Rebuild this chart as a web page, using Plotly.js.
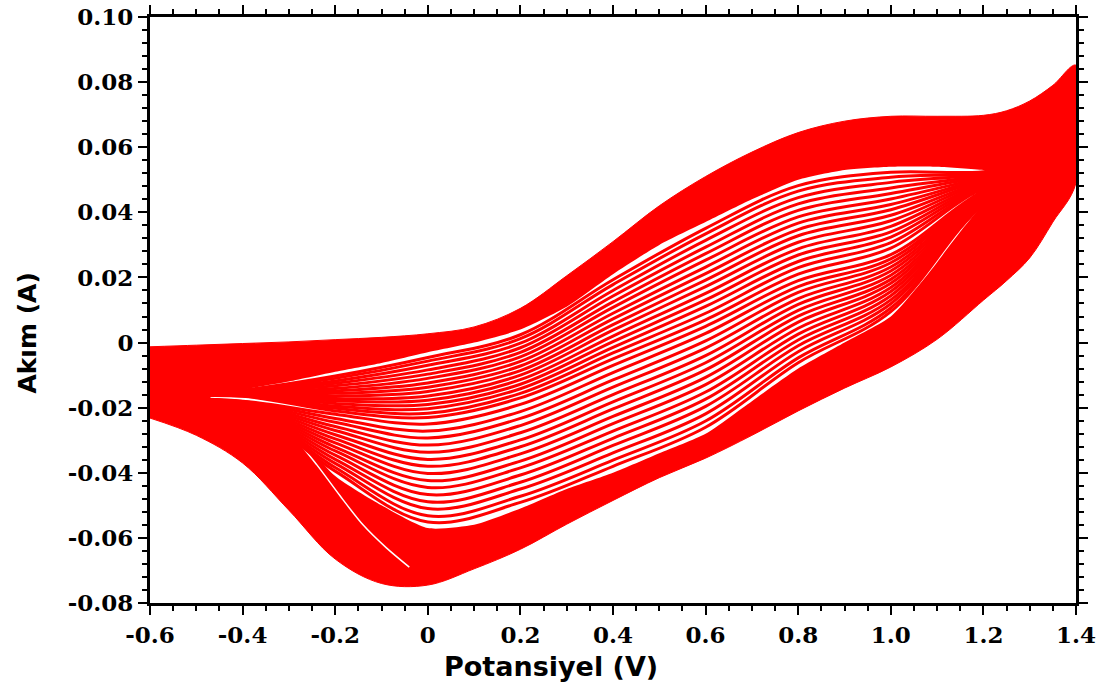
<!DOCTYPE html>
<html>
<head>
<meta charset="utf-8">
<script src="https://cdn.plot.ly/plotly-3.0.1.min.js"></script>
<style>html,body{margin:0;padding:0;background:#fff;}#chart{width:1110px;height:689px;}</style>
</head>
<body>
<div id="chart"></div>
<script>
// ---- Axis tick labels ----
const xTickVals = [-0.6,-0.4,-0.2,0,0.2,0.4,0.6,0.8,1.0,1.2,1.4];
const xTickText = ["-0.6","-0.4","-0.2","0","0.2","0.4","0.6","0.8","1.0","1.2","1.4"];
const yTickVals = [-0.08,-0.06,-0.04,-0.02,0,0.02,0.04,0.06,0.08,0.10];
const yTickText = ["-0.08","-0.06","-0.04","-0.02","0","0.02","0.04","0.06","0.08","0.10"];

// ---- Outer envelope (last cycles, solid red band) ----
const envV      = [-0.6,-0.5,-0.4,-0.3,-0.2,-0.1,0.0,0.1,0.2,0.3,0.4,0.5,0.6,0.7,0.8,0.9,1.0,1.1,1.2,1.25,1.3,1.35,1.4];
const envAnodic = [-0.0013,-0.0008,-0.0003,0.0002,0.0009,0.0016,0.0027,0.0048,0.0105,0.0205,0.0310,0.0420,0.0510,0.0585,0.0645,0.0680,0.0695,0.0695,0.0698,0.0712,0.0742,0.0790,0.0852];
const envCathodic = [-0.0232,-0.0285,-0.0370,-0.0515,-0.0665,-0.0740,-0.0745,-0.0695,-0.0635,-0.0558,-0.0485,-0.0415,-0.0355,-0.0285,-0.0210,-0.0140,-0.0075,0.0010,0.0130,0.0190,0.0260,0.0370,0.0490];

// ---- Inner lens (region where the earlier cycles are spread apart) ----
const lensTopV = [-0.47,-0.4,-0.3,-0.2,-0.1,0.0,0.1,0.2,0.3,0.4,0.5,0.6,0.7,0.8,0.9,1.0,1.1,1.2,1.26];
const lensTop  = [-0.017,-0.0145,-0.012,-0.009,-0.0063,-0.003,0.000,0.004,0.011,0.021,0.030,0.037,0.044,0.050,0.053,0.054,0.054,0.053,0.052];
const lensBotV = [-0.47,-0.4,-0.3,-0.2,-0.1,0.0,0.1,0.2,0.3,0.4,0.5,0.6,0.7,0.8,0.9,1.0,1.08,1.15,1.22,1.26];
const lensBot  = [-0.017,-0.020,-0.026,-0.041,-0.050,-0.057,-0.056,-0.051,-0.045,-0.040,-0.034,-0.028,-0.018,-0.008,0.000,0.008,0.021,0.034,0.046,0.052];

// ---- White gap between two late cycles in the lower-left band ----
const gapV = [-0.40,-0.34,-0.29,-0.24,-0.19,-0.14,-0.09,-0.04];
const gapI = [-0.0200,-0.0230,-0.0290,-0.0375,-0.0470,-0.0560,-0.0630,-0.0690];

// ---- Individual inner cycles (potential grid + anodic / cathodic currents) ----
const cycV = [-0.6,-0.4,-0.2,0,0.2,0.4,0.6,0.8,1.0,1.2,1.4];
const an01 = [-0.017,-0.0165,-0.0210,-0.0230,-0.0170,-0.0050,0.0070,0.0210,0.0290,0.0475,0.0560];
const ca01 = [-0.017,-0.0180,-0.0220,-0.0250,-0.0190,-0.0070,0.0050,0.0190,0.0270,0.0465,0.0560];
const an02 = [-0.017,-0.0164,-0.0202,-0.0217,-0.0156,-0.0032,0.0090,0.0230,0.0307,0.0478,0.0561];
const ca02 = [-0.017,-0.0181,-0.0233,-0.0272,-0.0212,-0.0092,0.0028,0.0172,0.0257,0.0462,0.0561];
const an03 = [-0.017,-0.0162,-0.0195,-0.0203,-0.0142,-0.0015,0.0111,0.0249,0.0324,0.0482,0.0563];
const ca03 = [-0.017,-0.0183,-0.0245,-0.0293,-0.0233,-0.0115,0.0005,0.0154,0.0245,0.0459,0.0563];
const an04 = [-0.017,-0.0161,-0.0187,-0.0190,-0.0128,0.0003,0.0131,0.0269,0.0340,0.0486,0.0564];
const ca04 = [-0.017,-0.0184,-0.0258,-0.0315,-0.0255,-0.0137,-0.0017,0.0135,0.0232,0.0456,0.0564];
const an05 = [-0.017,-0.0159,-0.0179,-0.0177,-0.0114,0.0020,0.0151,0.0288,0.0357,0.0489,0.0566];
const ca05 = [-0.017,-0.0186,-0.0270,-0.0337,-0.0277,-0.0160,-0.0040,0.0117,0.0220,0.0453,0.0566];
const an06 = [-0.017,-0.0158,-0.0172,-0.0164,-0.0100,0.0038,0.0172,0.0308,0.0374,0.0493,0.0567];
const ca06 = [-0.017,-0.0187,-0.0283,-0.0359,-0.0299,-0.0182,-0.0062,0.0099,0.0207,0.0450,0.0567];
const an07 = [-0.017,-0.0157,-0.0164,-0.0150,-0.0086,0.0055,0.0192,0.0328,0.0391,0.0496,0.0568];
const ca07 = [-0.017,-0.0188,-0.0296,-0.0380,-0.0320,-0.0204,-0.0084,0.0081,0.0194,0.0447,0.0568];
const an08 = [-0.017,-0.0155,-0.0156,-0.0137,-0.0072,0.0073,0.0212,0.0347,0.0408,0.0500,0.0570];
const ca08 = [-0.017,-0.0190,-0.0308,-0.0402,-0.0342,-0.0227,-0.0107,0.0063,0.0182,0.0444,0.0570];
const an09 = [-0.017,-0.0154,-0.0148,-0.0124,-0.0058,0.0090,0.0232,0.0367,0.0424,0.0503,0.0571];
const ca09 = [-0.017,-0.0191,-0.0321,-0.0424,-0.0364,-0.0249,-0.0129,0.0044,0.0169,0.0441,0.0571];
const an10 = [-0.017,-0.0152,-0.0141,-0.0110,-0.0044,0.0108,0.0253,0.0386,0.0441,0.0507,0.0573];
const ca10 = [-0.017,-0.0193,-0.0333,-0.0445,-0.0385,-0.0272,-0.0152,0.0026,0.0157,0.0438,0.0573];
const an11 = [-0.017,-0.0151,-0.0133,-0.0097,-0.0030,0.0125,0.0273,0.0406,0.0458,0.0511,0.0574];
const ca11 = [-0.017,-0.0194,-0.0346,-0.0467,-0.0407,-0.0294,-0.0174,0.0008,0.0144,0.0435,0.0574];
const an12 = [-0.017,-0.0150,-0.0125,-0.0084,-0.0016,0.0143,0.0293,0.0426,0.0475,0.0514,0.0575];
const ca12 = [-0.017,-0.0195,-0.0359,-0.0489,-0.0429,-0.0316,-0.0196,-0.0010,0.0131,0.0432,0.0575];
const an13 = [-0.017,-0.0148,-0.0118,-0.0070,-0.0002,0.0160,0.0314,0.0445,0.0492,0.0518,0.0577];
const ca13 = [-0.017,-0.0197,-0.0371,-0.0510,-0.0450,-0.0339,-0.0219,-0.0028,0.0119,0.0429,0.0577];
const an14 = [-0.017,-0.0147,-0.0110,-0.0057,0.0012,0.0178,0.0334,0.0465,0.0508,0.0521,0.0578];
const ca14 = [-0.017,-0.0198,-0.0384,-0.0532,-0.0472,-0.0361,-0.0241,-0.0047,0.0106,0.0426,0.0578];
const an15 = [-0.017,-0.0146,-0.0103,-0.0046,0.0024,0.0193,0.0351,0.0482,0.0523,0.0525,0.0579];
const ca15 = [-0.017,-0.0199,-0.0395,-0.0551,-0.0491,-0.0380,-0.0260,-0.0062,0.0095,0.0423,0.0579];

const cycles = [[an01,ca01],[an02,ca02],[an03,ca03],[an04,ca04],[an05,ca05],[an06,ca06],[an07,ca07],[an08,ca08],[an09,ca09],[an10,ca10],[an11,ca11],[an12,ca12],[an13,ca13],[an14,ca14],[an15,ca15]];

const RED = '#ff0000';
const traces = [];

// outer solid band
traces.push({
  x: envV.concat(envV.slice().reverse()),
  y: envAnodic.concat(envCathodic.slice().reverse()),
  mode: 'lines', fill: 'toself', fillcolor: RED,
  line: {color: RED, width: 1, shape: 'spline', smoothing: 1},
  hoverinfo: 'skip', showlegend: false
});
// inner lens (white gaps between the early cycles)
traces.push({
  x: lensTopV.concat(lensBotV.slice().reverse()),
  y: lensTop.concat(lensBot.slice().reverse()),
  mode: 'lines', fill: 'toself', fillcolor: '#ffffff',
  line: {color: 'rgba(255,255,255,0)', width: 0, shape: 'spline', smoothing: 0.6},
  hoverinfo: 'skip', showlegend: false
});
// gap line in lower-left band
traces.push({
  x: gapV, y: gapI, mode: 'lines',
  line: {color: '#ffffff', width: 1.5, shape: 'spline', smoothing: 0.8},
  hoverinfo: 'skip', showlegend: false
});
// cycles
cycles.forEach(function(c){
  traces.push({
    x: cycV.concat(cycV.slice().reverse()),
    y: c[0].concat(c[1].slice().reverse()),
    mode: 'lines',
    line: {color: RED, width: 3, shape: 'spline', smoothing: 1},
    hoverinfo: 'skip', showlegend: false
  });
});

const tickFont = {family: '"DejaVu Serif", "Liberation Serif", serif', size: 23, color: '#000', weight: 'bold'};
const xTitleFont = {family: '"DejaVu Sans", Tahoma, sans-serif', size: 27, color: '#000', weight: 'bold'};
const yTitleFont = {family: '"DejaVu Sans", Tahoma, sans-serif', size: 25, color: '#000', weight: 'bold'};

const axisCommon = {
  showgrid: false, zeroline: false,
  showline: true, linecolor: '#000', linewidth: 3,
  mirror: 'ticks', ticks: 'outside', ticklen: 9, tickwidth: 2, tickcolor: '#000',
  tickfont: tickFont
};

const layout = {
  width: 1110, height: 689,
  margin: {l: 150, r: 34, t: 17, b: 86},
  paper_bgcolor: '#fff', plot_bgcolor: '#fff',
  showlegend: false,
  xaxis: Object.assign({}, axisCommon, {
    range: [-0.6, 1.4], tickmode: 'array', tickvals: xTickVals, ticktext: xTickText,
    minor: {dtick: 0.05, ticklen: 5, tickwidth: 2, tickcolor: '#000', ticks: 'outside'}
  }),
  yaxis: Object.assign({}, axisCommon, {
    range: [-0.08, 0.10], tickmode: 'array', tickvals: yTickVals, ticktext: yTickText,
    minor: {dtick: 0.004, ticklen: 5, tickwidth: 2, tickcolor: '#000', ticks: 'outside'}
  }),
  annotations: [
    {text: 'Potansiyel (V)', xref: 'paper', yref: 'paper', x: 0.433, y: -0.109,
     xanchor: 'center', yanchor: 'middle', showarrow: false, font: xTitleFont},
    {text: 'Akım (A)', xref: 'paper', yref: 'paper', x: -0.132, y: 0.461,
     xanchor: 'center', yanchor: 'middle', textangle: -90, showarrow: false, font: yTitleFont}
  ]
};

Plotly.newPlot('chart', traces, layout, {staticPlot: true, displayModeBar: false});
</script>
</body>
</html>
